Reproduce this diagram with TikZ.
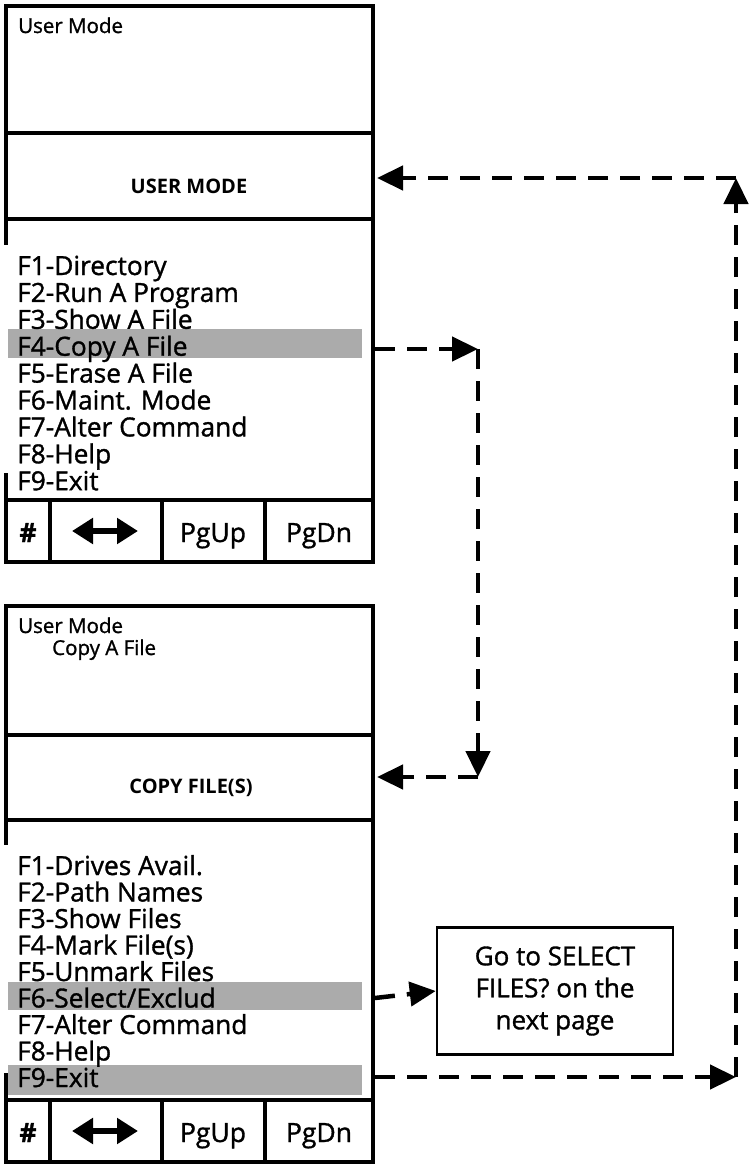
\documentclass[tikz,border=0pt]{standalone}
\usepackage{fontspec}
\setmainfont{Open Sans}
\newfontfamily\medfont{Open Sans}[FakeBold=1.2]
\usetikzlibrary{arrows.meta}
\tikzset{
  frame/.style={line width=4pt, line cap=rect},
  menu/.style={anchor=base west, inner sep=0pt, font=\medfont\fontsize{26.3}{28}\selectfont},
  small/.style={anchor=base west, inner sep=0pt, font=\medfont\fontsize{20.5}{24}\selectfont},
  title/.style={anchor=base, inner sep=0pt, font=\fontsize{20}{24}\selectfont\bfseries},
  btn/.style={anchor=base, inner sep=0pt, font=\medfont\fontsize{26.5}{30}\selectfont},
  hl/.style={fill=black!33},
  flow/.style={line width=4.5pt, dash pattern=on 20pt off 12pt, -{Triangle[length=26pt,width=24pt]}},
  goto/.style={draw, line width=2.5pt, minimum width=236pt, minimum height=127pt, inner sep=0pt, align=center, font=\medfont\fontsize{26}{32}\selectfont},
  dbl/.style={line width=5.5pt, {Triangle[length=21pt,width=25pt]}-{Triangle[length=21pt,width=25pt]}}
}
\begin{document}
\begin{tikzpicture}[x=1pt,y=-1pt]
\useasboundingbox (0,0) rectangle (749,1165);

% ---------- top panel ----------
\fill[hl] (8,329) rectangle (362,358);
\draw[frame] (6,243) -- (6,6) -- (373,6) -- (373,562) -- (6,562) -- (6,475);
\draw[frame] (6,133) -- (373,133) (6,219) -- (373,219) (6,500) -- (373,500);
\draw[frame] (50,500) -- (50,562) (162,500) -- (162,562) (265,500) -- (265,562);
\node[small] (t1) at (18,33) {User Mode};
\node[title] (t2) at (189,193) {USER MODE};
\node[menu] (a1) at (17,275.0) {F1-Directory};
\node[menu] (a2) at (17,301.9) {F2-Run A Program};
\node[menu] (a3) at (17,328.8) {F3-Show A File};
\node[menu] (a4) at (17,355.7) {F4-Copy A File};
\node[menu] (a5) at (17,382.6) {F5-Erase A File};
\node[menu] (a6) at (17,409.5) {F6-Maint. Mode};
\node[menu] (a7) at (17,436.4) {F7-Alter Command};
\node[menu] (a8) at (17,463.3) {F8-Help};
\node[menu] (a9) at (17,490.2) {F9-Exit};
\node[btn] (ah) at (28,542) {\bfseries\#};
\node[btn] (au) at (213,542) {PgUp};
\node[btn] (ad) at (319,542) {PgDn};
\coordinate (al) at (72,531);
\coordinate (ar) at (138,531);
\draw[dbl] (al) -- (ar);

% ---------- bottom panel ----------
\fill[hl] (8,982) rectangle (362,1010);
\fill[hl] (8,1065) rectangle (362,1095);
\draw[frame] (6,843) -- (6,606) -- (373,606) -- (373,1162) -- (6,1162) -- (6,1075);
\draw[frame] (6,735) -- (373,735) (6,820) -- (373,820) (6,1100) -- (373,1100);
\draw[frame] (50,1100) -- (50,1162) (162,1100) -- (162,1162) (265,1100) -- (265,1162);
\node[small] (u1) at (18,633) {User Mode};
\node[small] (u2) at (52,655) {Copy A File};
\node[title] (u3) at (191,793) {COPY FILE(S)};
\node[menu] (b1) at (17,875.0) {F1-Drives Avail.};
\node[menu] (b2) at (17,901.5) {F2-Path Names};
\node[menu] (b3) at (17,928.0) {F3-Show Files};
\node[menu] (b4) at (17,954.5) {F4-Mark File(s)};
\node[menu] (b5) at (17,981.0) {F5-Unmark Files};
\node[menu] (b6) at (17,1007.5) {F6-Select/Exclud};
\node[menu] (b7) at (17,1034.0) {F7-Alter Command};
\node[menu] (b8) at (17,1060.5) {F8-Help};
\node[menu] (b9) at (17,1087.0) {F9-Exit};
\node[btn] (bh) at (28,1142) {\bfseries\#};
\node[btn] (bu) at (213,1142) {PgUp};
\node[btn] (bd) at (319,1142) {PgDn};
\coordinate (bl) at (72,1131);
\coordinate (br) at (138,1131);
\draw[dbl] (bl) -- (br);

% ---------- note box ----------
\node[goto] (go) at (555,991) {Go to SELECT\\FILES? on the\\next page};

% ---------- connectors ----------
\coordinate (f4) at (375,349);
\coordinate (c1) at (478,349);
\coordinate (c2) at (478,777);
\coordinate (copyin) at (377,777);
\coordinate (f6) at (375,998);
\coordinate (f9) at (375,1077);
\coordinate (c3) at (736,1077);
\coordinate (c4) at (736,178);
\coordinate (userin) at (377,178);

\draw[flow] (f4) -- (c1);
\draw[flow] (c1) -- (c2);
\draw[flow] (c2) -- (copyin);
\draw[flow] (f6) -- (go.west);
\draw[flow] (f9) -- (c3);
\draw[flow] (c3) -- (c4);
\draw[flow] (c4) -- (userin);
\end{tikzpicture}
\end{document}
